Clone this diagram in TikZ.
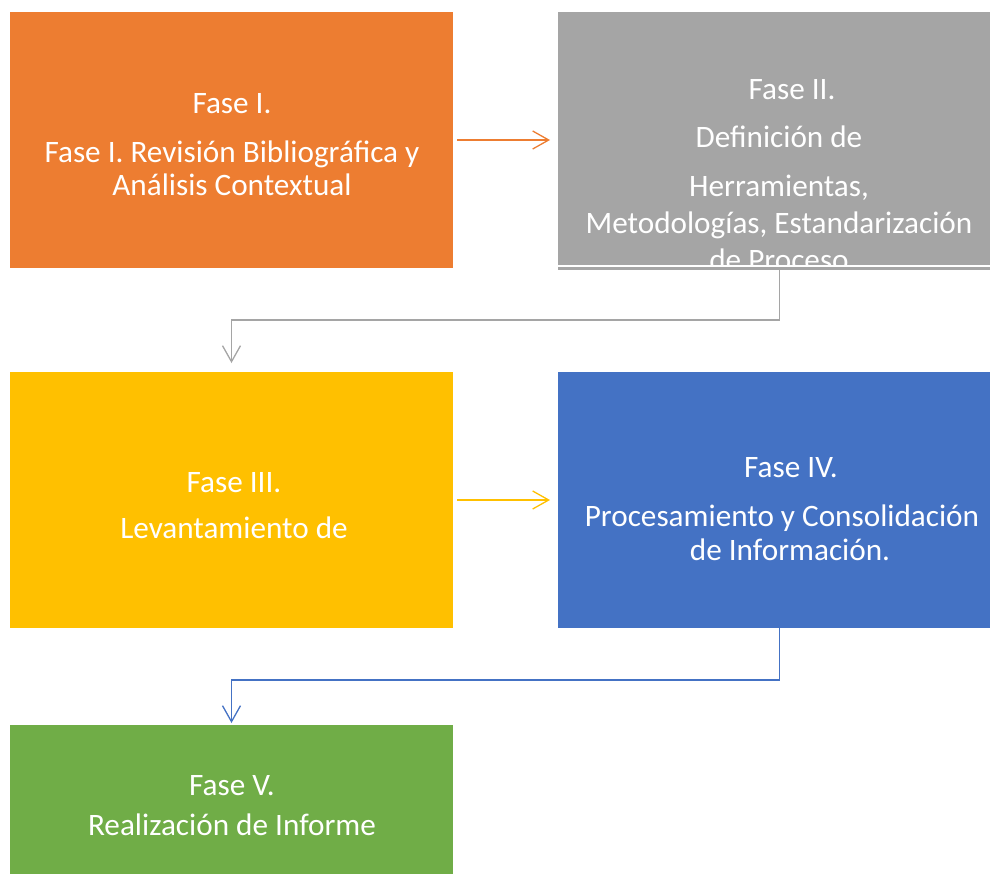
\documentclass[tikz,border=0pt]{standalone}
\usepackage{fontspec}
\setmainfont{Carlito}
\usepackage{xcolor}
\usetikzlibrary{arrows.meta}

\definecolor{naranja}{HTML}{ED7D31}
\definecolor{gris}{HTML}{A5A5A5}
\definecolor{amarillo}{HTML}{FFC000}
\definecolor{azul}{HTML}{4472C4}
\definecolor{verde}{HTML}{70AD47}

\tikzset{
	fase/.style={anchor=north west, minimum width=443pt, minimum height=256pt, inner sep=0pt, outer sep=0pt},
	texto/.style={text=white, align=center, anchor=base, inner sep=0pt, font=\fontsize{31.2}{33}\selectfont},
	flecha/.style={line width=1.3pt, -{Straight Barb[length=16pt,width=18pt]}}
}

\begin{document}
\begin{tikzpicture}[x=1pt,y=-1pt]
	\useasboundingbox (0,0) rectangle (990,873);
	\node[fase, fill=naranja] (A) at (10,12) {};
	\node[fase, fill=gris, minimum height=258pt] (B) at (558,12) {};
	\node[fase, fill=amarillo] (C) at (10,372) {};
	\node[fase, fill=azul] (D) at (558,372) {};
	\node[fase, fill=verde, minimum height=150pt] (E) at (10,725) {};
	\draw[white, line width=2pt] ([yshift=4pt]B.south west) -- ([yshift=4pt]B.south east);
	%
	%  TEXTOS
	%
	\node[texto] (A1) at (232,195) {Fase I.\\[16pt]Fase I. Revisión Bibliográfica y\\Análisis Contextual};
	\begin{scope}
		\clip (B.north west) rectangle ([yshift=5pt]B.south east);
		\node[texto] (B1) at (779,270) {\hspace{26pt}Fase II.\\[15pt]Definición de\\[16pt]Herramientas,\\[4pt]Metodologías, Estandarización\\[4pt]de Proceso};
	\end{scope}
	\node[texto] (C1) at (234,538) {Fase III.\\[13pt]Levantamiento de};
	\node[texto] (D1) at (782,560) {\hspace{18pt}Fase IV.\\[16pt]Procesamiento y Consolidación\\[1pt]\hspace{16pt}de Información.};
	\node[texto] (E1) at (232,835) {Fase V.\\[7pt]Realización de Informe};
	%
	\draw[flecha, naranja, shorten <=4pt, shorten >=8pt] (A.east) -- (A.east -| B.west);
	\draw[flecha, gris, shorten >=9pt] (B.south) -- ++(0,50) -| (C.north);
	\draw[flecha, amarillo, shorten <=4pt, shorten >=8pt] (C.east) -- (D.west);
	\draw[flecha, azul, shorten >=2pt] (D.south) -- ++(0,52) -| (E.north);
\end{tikzpicture}
\end{document}
